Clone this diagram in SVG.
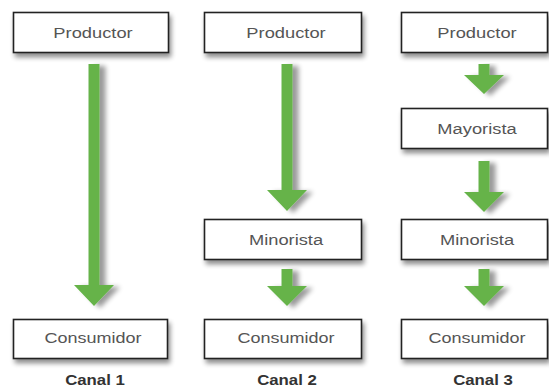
<svg xmlns="http://www.w3.org/2000/svg" width="549" height="387" viewBox="0 0 549 387">
<defs>
<filter id="sh" x="-10%" y="-20%" width="125%" height="160%">
<feGaussianBlur in="SourceAlpha" stdDeviation="2.5"/>
<feOffset dx="2" dy="4" result="b"/>
<feComponentTransfer><feFuncA type="linear" slope="0.45"/></feComponentTransfer>
<feMerge><feMergeNode/><feMergeNode in="SourceGraphic"/></feMerge>
</filter>
<filter id="ash" x="-30%" y="-10%" width="180%" height="130%">
<feGaussianBlur in="SourceAlpha" stdDeviation="2.5"/>
<feOffset dx="6" dy="2" result="b"/>
<feComponentTransfer><feFuncA type="linear" slope="0.4"/></feComponentTransfer>
<feMerge><feMergeNode/><feMergeNode in="SourceGraphic"/></feMerge>
</filter>
</defs>
<style>
.box{fill:#fff;stroke:#222;stroke-width:1.6;filter:url(#sh)}
.lbl{font-family:"Liberation Sans",Arial,sans-serif;font-size:15px;fill:#555;text-anchor:middle}
.can{font-family:"Liberation Sans",Arial,sans-serif;font-size:14px;font-weight:bold;fill:#333;text-anchor:middle}
.arr{fill:#66b34a;filter:url(#ash)}
</style>
<rect width="549" height="387" fill="#fff"/>
<g id="connectors">
<path class="arr" d="M88.5,64 H99.5 V285 H114 L94,306 L74,285 H88.5 Z"/>
<path class="arr" d="M281.5,64 H292.5 V190 H307 L287,211 L267,190 H281.5 Z"/>
<path class="arr" d="M281.5,269 H292.5 V286 H307 L287,306 L267,286 H281.5 Z"/>
<path class="arr" d="M478.5,64 H489.5 V75 H504 L484,94 L464,75 H478.5 Z"/>
<path class="arr" d="M478.5,161 H489.5 V192 H504 L484,212 L464,192 H478.5 Z"/>
<path class="arr" d="M478.5,269 H489.5 V286 H504 L484,306 L464,286 H478.5 Z"/>
</g>
<g id="productor1"><rect class="box" x="13.5" y="12.5" width="155" height="40"/><text class="lbl" transform="translate(93,38) scale(1.22,1)">Productor</text></g>
<g id="consumidor1"><rect class="box" x="13.5" y="319.5" width="154" height="39"/><text class="lbl" transform="translate(93,343) scale(1.2,1)">Consumidor</text></g>
<g id="canal1"><text class="can" transform="translate(95,385) scale(1.2,1)">Canal 1</text></g>
<g id="productor2"><rect class="box" x="204.5" y="12.5" width="157" height="40"/><text class="lbl" transform="translate(286,38) scale(1.22,1)">Productor</text></g>
<g id="minorista2"><rect class="box" x="204.5" y="219.5" width="157" height="40"/><text class="lbl" transform="translate(286,245) scale(1.22,1)">Minorista</text></g>
<g id="consumidor2"><rect class="box" x="204.5" y="319.5" width="157" height="39"/><text class="lbl" transform="translate(286,343) scale(1.2,1)">Consumidor</text></g>
<g id="canal2"><text class="can" transform="translate(287,385) scale(1.2,1)">Canal 2</text></g>
<g id="productor3"><rect class="box" x="401.5" y="12.5" width="146" height="40"/><text class="lbl" transform="translate(477,38) scale(1.22,1)">Productor</text></g>
<g id="mayorista3"><rect class="box" x="401.5" y="108.5" width="146" height="40"/><text class="lbl" transform="translate(477,134) scale(1.22,1)">Mayorista</text></g>
<g id="minorista3"><rect class="box" x="401.5" y="219.5" width="146" height="40"/><text class="lbl" transform="translate(477,245) scale(1.22,1)">Minorista</text></g>
<g id="consumidor3"><rect class="box" x="401.5" y="319.5" width="146" height="39"/><text class="lbl" transform="translate(477,343) scale(1.2,1)">Consumidor</text></g>
<g id="canal3"><text class="can" transform="translate(483,385) scale(1.2,1)">Canal 3</text></g>
</svg>
